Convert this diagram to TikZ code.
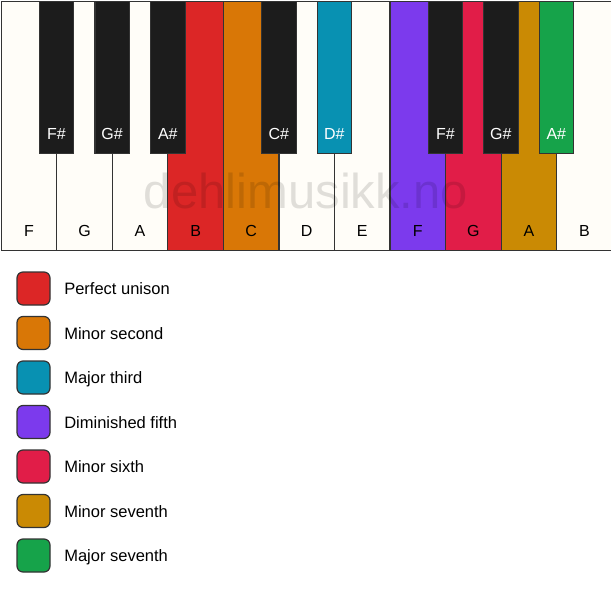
\documentclass[tikz,border=0pt]{standalone}
\usepackage{fontspec}
\setmainfont{Liberation Sans}
\usepackage{xcolor}
\usepackage{tikz}
\usetikzlibrary{positioning}

\definecolor{keyred}{HTML}{DC2626}
\definecolor{keyorange}{HTML}{D97706}
\definecolor{keycyan}{HTML}{0891B2}
\definecolor{keyviolet}{HTML}{7C3AED}
\definecolor{keyrose}{HTML}{E11D48}
\definecolor{keygold}{HTML}{CA8A04}
\definecolor{keygreen}{HTML}{16A34A}
\definecolor{ivory}{HTML}{FFFDF8}
\definecolor{ebony}{HTML}{1C1C1C}
\definecolor{edge}{HTML}{333333}

\begin{document}
\begin{tikzpicture}[x=1pt, y=-1pt,
    whitekey/.style={rectangle, draw=edge, line width=1.2pt, fill=ivory, anchor=north west, minimum width=55.55pt, minimum height=249pt, inner sep=0pt},
    blackkey/.style={rectangle, draw=edge, line width=1.2pt, fill=ebony, anchor=north west, minimum width=34.5pt, minimum height=152.5pt, inner sep=0pt},
    whitename/.style={inner sep=0pt, text depth=0pt, font=\fontsize{16}{16}\selectfont, text=black},
    blackname/.style={inner sep=0pt, text depth=0pt, font=\fontsize{16}{16}\selectfont, text=white},
    swatch/.style={rectangle, rounded corners=6pt, draw=edge, line width=1.2pt, minimum size=33pt, inner sep=0pt},
    legendtext/.style={anchor=west, inner sep=0pt, text height=12pt, text depth=0pt, font=\fontsize{16.5}{16.5}\selectfont}]
    \useasboundingbox (0,0) rectangle (611,594);
    \fill[white] (0,0) rectangle (611,594);

    % White keys
    \node[whitekey] (wF1) at (0.6,0.6) {};
    \node[whitekey] (wG1) at (56.15,0.6) {};
    \node[whitekey] (wA1) at (111.7,0.6) {};
    \node[whitekey, fill=keyred] (wB1) at (167.25,0.6) {};
    \node[whitekey, fill=keyorange] (wC) at (222.8,0.6) {};
    \node[whitekey] (wD) at (278.35,0.6) {};
    \node[whitekey] (wE) at (333.9,0.6) {};
    \node[whitekey, fill=keyviolet] (wF2) at (389.45,0.6) {};
    \node[whitekey, fill=keyrose] (wG2) at (445,0.6) {};
    \node[whitekey, fill=keygold] (wA2) at (500.55,0.6) {};
    \node[whitekey] (wB2) at (556.1,0.6) {};

    % White key names
    \node[whitename, above=14.5pt of wF1.south] {F};
    \node[whitename, above=14.5pt of wG1.south] {G};
    \node[whitename, above=14.5pt of wA1.south] {A};
    \node[whitename, above=14.5pt of wB1.south] {B};
    \node[whitename, above=14.5pt of wC.south] {C};
    \node[whitename, above=14.5pt of wD.south] {D};
    \node[whitename, above=14.5pt of wE.south] {E};
    \node[whitename, above=14.5pt of wF2.south] {F};
    \node[whitename, above=14.5pt of wG2.south] {G};
    \node[whitename, above=14.5pt of wA2.south] {A};
    \node[whitename, above=14.5pt of wB2.south] {B};

    % Black keys
    \node[blackkey] (bFs1) at (38.5,0.6) {};
    \node[blackkey] (bGs1) at (94.3,0.6) {};
    \node[blackkey] (bAs1) at (150,0.6) {};
    \node[blackkey] (bCs) at (261,0.6) {};
    \node[blackkey, fill=keycyan] (bDs) at (316.5,0.6) {};
    \node[blackkey] (bFs2) at (427.5,0.6) {};
    \node[blackkey] (bGs2) at (483,0.6) {};
    \node[blackkey, fill=keygreen] (bAs2) at (538.5,0.6) {};

    % Black key names
    \node[blackname, above=14.5pt of bFs1.south] {F\#};
    \node[blackname, above=14.5pt of bGs1.south] {G\#};
    \node[blackname, above=14.5pt of bAs1.south] {A\#};
    \node[blackname, above=14.5pt of bCs.south] {C\#};
    \node[blackname, above=14.5pt of bDs.south] {D\#};
    \node[blackname, above=14.5pt of bFs2.south] {F\#};
    \node[blackname, above=14.5pt of bGs2.south] {G\#};
    \node[blackname, above=14.5pt of bAs2.south] {A\#};

    % Watermark
    \node[anchor=base, inner sep=0pt, text=black, text opacity=0.12, font=\fontsize{49}{49}\selectfont] (mark) at (306,208) {dehlimusikk.no};

    % Legend
    \node[swatch, fill=keyred] (sw1) at (33.5,288.5) {};
    \node[swatch, fill=keyorange] (sw2) at (33.5,333) {};
    \node[swatch, fill=keycyan] (sw3) at (33.5,377.5) {};
    \node[swatch, fill=keyviolet] (sw4) at (33.5,422) {};
    \node[swatch, fill=keyrose] (sw5) at (33.5,466.5) {};
    \node[swatch, fill=keygold] (sw6) at (33.5,511) {};
    \node[swatch, fill=keygreen] (sw7) at (33.5,555.5) {};

    \node[legendtext, right=13.5pt of sw1] {Perfect unison};
    \node[legendtext, right=13.5pt of sw2] {Minor second};
    \node[legendtext, right=13.5pt of sw3] {Major third};
    \node[legendtext, right=13.5pt of sw4] {Diminished fifth};
    \node[legendtext, right=13.5pt of sw5] {Minor sixth};
    \node[legendtext, right=13.5pt of sw6] {Minor seventh};
    \node[legendtext, right=13.5pt of sw7] {Major seventh};
\end{tikzpicture}
\end{document}
